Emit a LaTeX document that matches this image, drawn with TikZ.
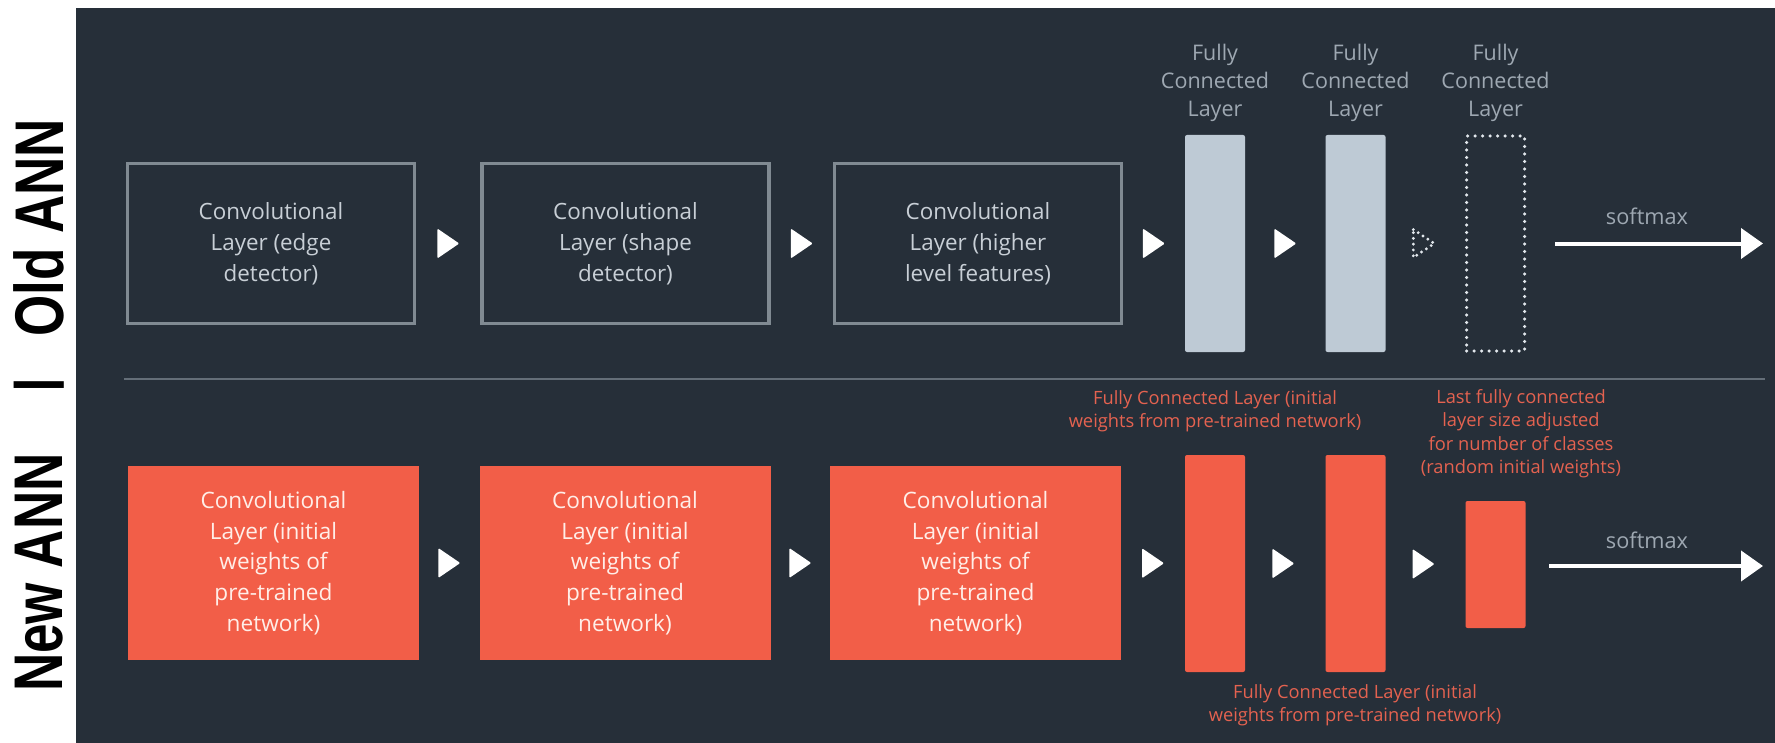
\documentclass[tikz,border=0pt]{standalone}
\usepackage{graphicx}
\usepackage{fontspec}
\setmainfont{Open Sans}
\newfontfamily\labfont{Liberation Sans}
\usetikzlibrary{arrows.meta,calc}
\definecolor{bgc}{RGB}{38,47,57}
\definecolor{boxgrey}{RGB}{128,138,146}
\definecolor{convtext}{RGB}{200,207,214}
\definecolor{barc}{RGB}{190,202,213}
\definecolor{fctext}{RGB}{158,168,178}
\definecolor{redc}{RGB}{242,94,72}
\definecolor{redtext}{RGB}{255,238,232}
\definecolor{redlabc}{RGB}{228,98,80}
\definecolor{sepc}{RGB}{100,110,120}
\definecolor{dotc}{RGB}{225,231,236}
\begin{document}
\begin{tikzpicture}[x=0.5pt,y=-0.5pt,
  convbox/.style={draw=boxgrey, line width=1.6pt, minimum width=143.5pt, minimum height=80pt,
    align=center, text=convtext, inner sep=0pt, font=\fontsize{11.2pt}{15.5pt}\selectfont},
  redbox/.style={fill=redc, minimum width=145.5pt, minimum height=97pt,
    align=center, text=redtext, inner sep=0pt, font=\fontsize{11.3pt}{15.3pt}\selectfont},
  fcbar/.style={fill=barc, rounded corners=1pt, minimum width=30pt, minimum height=108.5pt, inner sep=0pt},
  redbar/.style={fill=redc, rounded corners=1pt, minimum width=30pt, minimum height=108.5pt, inner sep=0pt},
  dotbox/.style={draw=dotc, line width=1.75pt, line cap=round, dash pattern=on 0pt off 3.75pt,
    minimum width=29pt, minimum height=107.5pt, inner sep=0pt},
  fclab/.style={text=fctext, align=center, inner sep=0pt, font=\fontsize{10.75pt}{14pt}\selectfont},
  redlab/.style={text=redlabc, align=center, inner sep=0pt, font=\fontsize{9.15pt}{11.75pt}\selectfont},
  smlab/.style={text=fctext, inner sep=0pt, font=\fontsize{10.85pt}{13pt}\selectfont},
  smarrow/.style={draw=white, line width=2pt, -{Triangle[length=11pt,width=15pt]}},
  sidelab/.style={rotate=90, inner sep=0pt, text=black, font=\fontsize{26.5pt}{30pt}\labfont\bfseries},
  tri/.pic={\fill[white, rounded corners=0.6pt] (-11,-15) -- (11,0) -- (-11,15) -- cycle;},
  dottri/.pic={\draw[dotc, line width=1.6pt, line cap=round, dash pattern=on 0pt off 2.9pt] (-10,-14) -- (11,0) -- (-10,14) -- cycle;}
]
\useasboundingbox (0,0) rectangle (1775,743);
\fill[white] (0,0) rectangle (1775,743);
\fill[bgc] (76,8) rectangle (1775,743);

% side labels
\node[sidelab] (oldlab) at (39,228) {\scalebox{1}[1.3]{Old ANN}};
\node[sidelab] (barlab) at (39,385) {|};
\node[sidelab] (newlab) at (39,572.5) {\scalebox{1}[1.3]{New ANN}};

% separator
\coordinate (sepL) at (124,379);
\coordinate (sepR) at (1765,379);
\draw[sepc, line width=0.75pt] (sepL) -- (sepR);

% ---------- Old ANN ----------
\node[convbox] (c1) at (271,243.5) {Convolutional\\Layer (edge\\detector)};
\node[convbox] (c2) at (625.5,243.5) {Convolutional\\Layer (shape\\detector)};
\node[convbox] (c3) at (978,243.5) {Convolutional\\Layer (higher\\level features)};
\node[fcbar] (f1) at (1215,243.5) {};
\node[fcbar] (f2) at (1355.5,243.5) {};
\node[dotbox] (f3) at (1495.5,243.5) {};
\node[fclab] (fl1) at (1215,83) {Fully\\Connected\\Layer};
\node[fclab] (fl2) at (1355.5,83) {Fully\\Connected\\Layer};
\node[fclab] (fl3) at (1495.5,83) {Fully\\Connected\\Layer};
\pic at ($(c1.east)!0.5!(c2.west)$) {tri};
\pic at ($(c2.east)!0.5!(c3.west)$) {tri};
\pic at ($(c3.east)!0.5!(f1.west)$) {tri};
\pic at ($(f1.east)!0.5!(f2.west)$) {tri};
\pic at ($(f2.east)!0.5!(f3.west)+(-2,0)$) {dottri};
\coordinate (sa1) at (1555,243.5);
\coordinate (sb1) at (1763,243.5);
\draw[smarrow] (sa1) -- (sb1);
\node[smlab] (sm1) at (1647,216) {softmax};

% ---------- New ANN ----------
\node[redbox] (r1) at (273.5,563) {Convolutional\\Layer (initial\\weights of\\pre-trained\\network)};
\node[redbox] (r2) at (625,563) {Convolutional\\Layer (initial\\weights of\\pre-trained\\network)};
\node[redbox] (r3) at (975.5,563) {Convolutional\\Layer (initial\\weights of\\pre-trained\\network)};
\node[redbar] (g1) at (1215,563.5) {};
\node[redbar] (g2) at (1355.5,563.5) {};
\node[redbar, minimum height=63.5pt] (g3) at (1495.5,564.5) {};
\pic at ($(r1.east)!0.5!(r2.west)$) {tri};
\pic at ($(r2.east)!0.5!(r3.west)$) {tri};
\pic at ($(r3.east)!0.5!(g1.west)$) {tri};
\pic at ($(g1.east)!0.5!(g2.west)+(-2,0)$) {tri};
\pic at ($(g2.east)!0.5!(g3.west)+(-2,0)$) {tri};
\coordinate (sa2) at (1549,566);
\coordinate (sb2) at (1763,566);
\draw[smarrow] (sa2) -- (sb2);
\node[smlab] (sm2) at (1647,540) {softmax};
\node[redlab] (rl1) at (1215,411) {Fully Connected Layer (initial\\weights from pre-trained network)};
\node[redlab] (rl2) at (1521,433.5) {Last fully connected\\layer size adjusted\\for number of classes\\(random initial weights)};
\node[redlab] (rl3) at (1355,705) {Fully Connected Layer (initial\\weights from pre-trained network)};
\end{tikzpicture}
\end{document}
